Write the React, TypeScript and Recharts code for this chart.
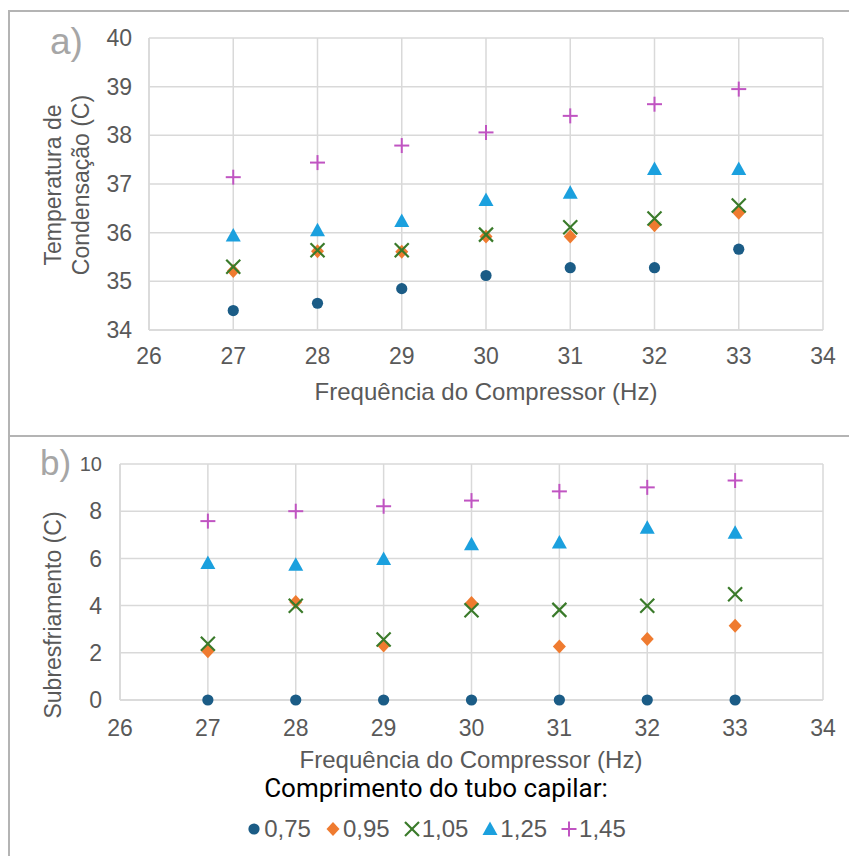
import React from 'react';
import { ScatterChart, Scatter, XAxis, YAxis, CartesianGrid, Legend } from 'recharts';

const frequencies = [27, 28, 29, 30, 31, 32, 33];
const seriesNames = ['0,75', '0,95', '1,05', '1,25', '1,45'];
const xTicks = [26, 27, 28, 29, 30, 31, 32, 33, 34];
const tempTicks = [34, 35, 36, 37, 38, 39, 40];
const subTicks = [0, 2, 4, 6, 8, 10];

const temp075 = [34.4, 34.55, 34.85, 35.12, 35.28, 35.28, 35.66];
const temp095 = [35.21, 35.62, 35.61, 35.92, 35.92, 36.15, 36.41];
const temp105 = [35.3, 35.64, 35.64, 35.96, 36.11, 36.29, 36.56];
const temp125 = [35.94, 36.05, 36.24, 36.67, 36.82, 37.31, 37.31];
const temp145 = [37.14, 37.44, 37.79, 38.06, 38.4, 38.64, 38.95];

const sub075 = [0, 0, 0, 0, 0, 0, 0];
const sub095 = [2.07, 4.15, 2.31, 4.11, 2.27, 2.59, 3.15];
const sub105 = [2.38, 3.99, 2.56, 3.8, 3.82, 3.99, 4.48];
const sub125 = [5.8, 5.73, 5.97, 6.6, 6.67, 7.3, 7.09];
const sub145 = [7.58, 8.0, 8.21, 8.45, 8.84, 9.01, 9.3];

const COLORS = ['#1b5c86', '#ef7b30', '#3a7a2a', '#1ba0de', '#c054c2'];
const FONT = '"Liberation Sans", Arial, sans-serif';
const GRAY = '#595959';
const GRID = '#d9d9d9';

const toPoints = (ys: number[]) => frequencies.map((x, i) => ({ x, y: ys[i] }));

const CircleShape = (p: any) => <circle cx={p.cx} cy={p.cy} r={5.6} fill={COLORS[0]} />;
const DiamondShape = (p: any) => (
  <polygon
    points={`${p.cx},${p.cy - 7} ${p.cx + 6.5},${p.cy} ${p.cx},${p.cy + 7} ${p.cx - 6.5},${p.cy}`}
    fill={COLORS[1]}
  />
);
const XShape = (p: any) => (
  <g stroke={COLORS[2]} strokeWidth={2.2}>
    <line x1={p.cx - 7} y1={p.cy - 7} x2={p.cx + 7} y2={p.cy + 7} />
    <line x1={p.cx - 7} y1={p.cy + 7} x2={p.cx + 7} y2={p.cy - 7} />
  </g>
);
const TriShape = (p: any) => (
  <polygon
    points={`${p.cx},${p.cy - 7.5} ${p.cx + 7.5},${p.cy + 6} ${p.cx - 7.5},${p.cy + 6}`}
    fill={COLORS[3]}
  />
);
const PlusShape = (p: any) => (
  <g stroke={COLORS[4]} strokeWidth={2}>
    <line x1={p.cx - 7.5} y1={p.cy} x2={p.cx + 7.5} y2={p.cy} />
    <line x1={p.cx} y1={p.cy - 7.5} x2={p.cx} y2={p.cy + 7.5} />
  </g>
);
const SHAPES = [CircleShape, DiamondShape, XShape, TriShape, PlusShape];

const TopYLabel = (_p: any) => (
  <g fontFamily={FONT}>
    <text x={50} y={54} fontSize={37} fill="#a6a6a6">a)</text>
    <text transform="translate(61,185) rotate(-90)" textAnchor="middle" fontSize={23} fill={GRAY}>Temperatura de</text>
    <text transform="translate(89,185) rotate(-90)" textAnchor="middle" fontSize={23} fill={GRAY}>Condensação (C)</text>
  </g>
);

const BottomYLabel = (_p: any) => (
  <g fontFamily={FONT}>
    <text x={40} y={38} fontSize={35} fill="#a6a6a6">b)</text>
    <text transform="translate(61,178) rotate(-90)" textAnchor="middle" fontSize={23} fill={GRAY}>Subresfriamento (C)</text>
  </g>
);

const XTitle = (p: any) => (
  <text x={p.px} y={p.py} textAnchor="middle" fontSize={24} fill={GRAY} fontFamily={FONT}>
    Frequência do Compressor (Hz)
  </text>
);

const BottomYTick = (p: any) => (
  <text
    x={p.x}
    y={p.y}
    dy="0.36em"
    textAnchor="end"
    fontSize={p.payload.value === 10 ? 20 : 23}
    fill={GRAY}
    fontFamily={FONT}
  >
    {p.payload.value}
  </text>
);

const LegendIcon = ({ i }: { i: number }) => {
  const S = SHAPES[i];
  return (
    <svg width={16} height={16} style={{ display: 'inline-block', verticalAlign: 'middle' }}>
      <S cx={8} cy={8} />
    </svg>
  );
};

const LegendBox = () => (
  <div style={{ width: 849, paddingLeft: 23, boxSizing: 'border-box', textAlign: 'center' }}>
    <div style={{ fontFamily: 'Roboto, sans-serif', fontSize: 26, lineHeight: '30px', color: '#000' }}>
      Comprimento do tubo capilar:
    </div>
    <div
      style={{
        marginTop: 11,
        fontFamily: FONT,
        fontSize: 24,
        lineHeight: '30px',
        color: GRAY,
        display: 'flex',
        justifyContent: 'center',
        alignItems: 'center',
        gap: 14,
      }}
    >
      {seriesNames.map((n, i) => (
        <span key={n} style={{ display: 'inline-flex', alignItems: 'center', gap: 2 }}>
          <LegendIcon i={i} />
          <span>{n}</span>
        </span>
      ))}
    </div>
  </div>
);

const topSeries = [temp075, temp095, temp105, temp125, temp145];
const bottomSeries = [sub075, sub095, sub105, sub125, sub145];

const tickStyle = { fontSize: 23, fill: GRAY, fontFamily: FONT };

export default function App() {
  return (
    <div style={{ position: 'absolute', left: 0, top: 0, width: 849, height: 856, background: '#fff', overflow: 'hidden' }}>
      <div style={{ position: 'absolute', left: 0, top: 0 }}>
        <ScatterChart width={849} height={436} margin={{ top: 38, right: 26, bottom: 0, left: 0 }}>
          <CartesianGrid stroke={GRID} strokeWidth={1.5} />
          <XAxis
            type="number"
            dataKey="x"
            domain={[26, 34]}
            ticks={xTicks}
            height={106}
            tickLine={false}
            tickMargin={12}
            axisLine={{ stroke: GRID, strokeWidth: 1.5 }}
            tick={tickStyle}
            label={<XTitle px={486} py={400} />}
          />
          <YAxis
            type="number"
            dataKey="y"
            domain={[34, 40]}
            ticks={tempTicks}
            width={149}
            tickLine={false}
            tickMargin={11}
            axisLine={{ stroke: GRID, strokeWidth: 1.5 }}
            tick={tickStyle}
            label={<TopYLabel />}
          />
          {topSeries.map((s, i) => (
            <Scatter key={seriesNames[i]} name={seriesNames[i]} data={toPoints(s)} fill={COLORS[i]} shape={SHAPES[i]} isAnimationActive={false} />
          ))}
        </ScatterChart>
      </div>
      <div style={{ position: 'absolute', left: 0, top: 437 }}>
        <ScatterChart width={849} height={419} margin={{ top: 27, right: 26, bottom: 0, left: 0 }}>
          <CartesianGrid stroke={GRID} strokeWidth={1.5} />
          <XAxis
            type="number"
            dataKey="x"
            domain={[26, 34]}
            ticks={xTicks}
            height={156}
            tickLine={false}
            tickMargin={14}
            axisLine={{ stroke: GRID, strokeWidth: 1.5 }}
            tick={tickStyle}
            label={<XTitle px={471} py={331} />}
          />
          <YAxis
            type="number"
            dataKey="y"
            domain={[0, 10]}
            ticks={subTicks}
            width={120}
            tickLine={false}
            tickMargin={12}
            axisLine={{ stroke: GRID, strokeWidth: 1.5 }}
            tick={<BottomYTick />}
            label={<BottomYLabel />}
          />
          {bottomSeries.map((s, i) => (
            <Scatter key={seriesNames[i]} name={seriesNames[i]} data={toPoints(s)} fill={COLORS[i]} shape={SHAPES[i]} isAnimationActive={false} />
          ))}
          <Legend
            layout="horizontal"
            verticalAlign="middle"
            align="center"
            wrapperStyle={{ top: 336, left: 0, width: 849 }}
            content={() => <LegendBox />}
          />
        </ScatterChart>
      </div>
      <div style={{ position: 'absolute', left: 9, top: 10, width: 840, height: 2, background: '#b4b4b4' }} />
      <div style={{ position: 'absolute', left: 8, top: 10, width: 2, height: 846, background: '#b4b4b4' }} />
      <div style={{ position: 'absolute', left: 9, top: 435, width: 840, height: 2, background: '#b4b4b4' }} />
    </div>
  );
}
